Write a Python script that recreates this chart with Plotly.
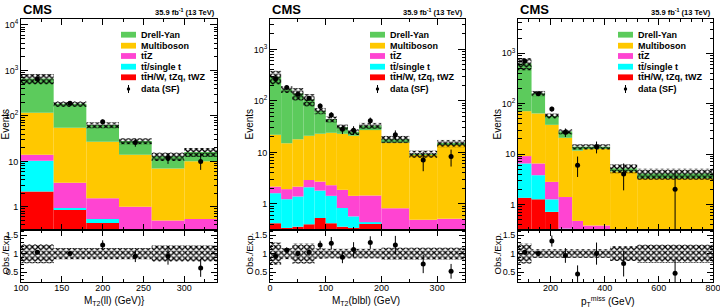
import plotly.graph_objects as go
import numpy as np

W, H = 720, 308

# ---------------- Panel 1: MT2(ll) ----------------
mt2ll_edges = [100, 140, 180, 220, 260, 300, 340]
mt2ll_dy = [547, 129, 36, 14, 6, 6]
mt2ll_vv = [104, 51.6, 25.5, 13, 6.5, 9.5]
mt2ll_ttz = [3.7, 2.46, 1.01, 0.75, 0.35, 0.39]
mt2ll_tt = [8.1, 0.05, 0.10, 0.05, 0.03, 0.03]
mt2ll_rare = [2.17, 0.89, 0.44, 0.20, 0.12, 0.12]
mt2ll_data = [650, 190, 74, 26, 12, 10]
mt2ll_err_up = [25, 14, 9, 5.5, 3.2, 5.0]
mt2ll_err_dn = [25, 14, 9, 5.0, 3.2, 3.5]
mt2ll_unc = [0.26, 0.15, 0.15, 0.15, 0.22, 0.22]
mt2ll_ratio = [1.04, 1.00, 1.23, 0.93, 0.93, 0.61]
mt2ll_ratio_err = [0.04, 0.06, 0.13, 0.16, 0.23, 0.24]

# ---------------- Panel 2: MT2(blbl) ----------------
mt2blbl_edges = [0, 20, 40, 60, 80, 100, 120, 140, 160, 200, 250, 300, 350]
mt2blbl_dy = [273, 153, 122, 86, 41, 20, 8, 4, 6, 2.5, 0.3, 1.0]
mt2blbl_vv = [19.8, 13.1, 15.8, 18.1, 20.3, 21.7, 21.1, 19.6, 25.6, 14.7, 8.5, 13.5]
mt2blbl_ttz = [0.55, 0.70, 0.77, 0.80, 0.89, 0.87, 1.04, 0.86, 1.01, 0.67, 0.34, 0.36]
mt2blbl_tt = [1.19, 0.89, 1.03, 1.70, 1.28, 1.01, 0.47, 0.23, 0.02, 0.02, 0.02, 0.02]
mt2blbl_rare = [0.42, 0.34, 0.36, 0.40, 0.53, 0.42, 0.36, 0.34, 0.42, 0.13, 0.13, 0.13]
mt2blbl_data = [270, 183, 135, 112, 80, 53, 28, 27, 41, 22, 7.1, 8.3]
mt2blbl_err_up = [16, 13.5, 11.6, 10.6, 9, 7.3, 5.3, 5.2, 6.4, 4.7, 3.2, 3.0]
mt2blbl_err_dn = [16, 13.5, 11.6, 10.6, 9, 7.3, 5.3, 5.2, 6.4, 4.7, 2.8, 3.0]
mt2blbl_unc = [0.30, 0.15, 0.27, 0.27, 0.14, 0.13, 0.13, 0.13, 0.13, 0.16, 0.16, 0.16]
mt2blbl_ratio = [0.93, 1.09, 1.00, 1.04, 1.23, 1.28, 0.90, 1.11, 1.30, 1.23, 0.72, 0.52]
mt2blbl_ratio_err = [0.05, 0.08, 0.08, 0.10, 0.12, 0.17, 0.16, 0.20, 0.17, 0.25, 0.25, 0.20]

# ---------------- Panel 3: pTmiss ----------------
met_edges = [80, 130, 180, 230, 280, 320, 420, 520, 800]
met_dy = [559, 96, 19, 7, 2.3, 1.4, 0.7, 0.8]
met_vv = [61.9, 57.5, 35.2, 19.6, 11.2, 12.2, 4.4, 3.2]
met_ttz = [2.6, 2.7, 1.54, 1.07, 0.31, 0.26, 0.04, 0.04]
met_tt = [5.15, 2.54, 0.55, 0.13, 0.06, 0.02, 0.01, 0.01]
met_rare = [1.35, 1.26, 0.71, 0.20, 0.10, 0.10, 0.05, 0.05]
met_data = [700, 158, 78, 27, 6, 14, 4, 2]
met_err_up = [26, 12.6, 8.8, 5.2, 2.9, 3.7, 2.5, 2.6]
met_err_dn = [26, 12.6, 8.8, 5.2, 2.5, 3.7, 2.1, 1.7]
met_unc = [0.27, 0.12, 0.12, 0.12, 0.12, 0.12, 0.20, 0.25]
met_ratio = [1.04, 1.00, 1.34, 0.95, 0.45, 1.00, 0.73, 0.47]
met_ratio_err = [0.03, 0.06, 0.15, 0.20, 0.23, 0.30, 0.35, 0.35]

# x tick labels
mt2ll_ticks = [100, 150, 200, 250, 300]
mt2blbl_ticks = [0, 100, 200, 300]
met_ticks = [200, 400, 600, 800]

proc_names = ["Drell-Yan", "Multiboson", "tt\u0304Z", "tt\u0304/single t", "tt\u0304H/W, tZq, tWZ"]
proc_colors = ["#5CCB5C", "#FFC800", "#FF44D2", "#00FFFF", "#FF0000"]

panels = [
    dict(edges=mt2ll_edges, comps=[mt2ll_rare, mt2ll_tt, mt2ll_ttz, mt2ll_vv, mt2ll_dy],
         data=mt2ll_data, eu=mt2ll_err_up, ed=mt2ll_err_dn, unc=mt2ll_unc,
         ratio=mt2ll_ratio, rerr=mt2ll_ratio_err, ticks=mt2ll_ticks,
         xpx=(21, 217), yrange=[np.log10(0.31), np.log10(13500)],
         decades=[1, 10, 100, 1000, 10000],
         xminor=25, xtitle="M<sub>T2</sub>(ll) (GeV)}", xtc=115),
    dict(edges=mt2blbl_edges, comps=[mt2blbl_rare, mt2blbl_tt, mt2blbl_ttz, mt2blbl_vv, mt2blbl_dy],
         data=mt2blbl_data, eu=mt2blbl_err_up, ed=mt2blbl_err_dn, unc=mt2blbl_unc,
         ratio=mt2blbl_ratio, rerr=mt2blbl_ratio_err, ticks=mt2blbl_ticks,
         xpx=(270, 465), yrange=[np.log10(0.31), np.log10(3900)],
         decades=[1, 10, 100, 1000],
         xminor=50, xtitle="M<sub>T2</sub>(blbl) (GeV)", xtc=366),
    dict(edges=met_edges, comps=[met_rare, met_tt, met_ttz, met_vv, met_dy],
         data=met_data, eu=met_err_up, ed=met_err_dn, unc=met_unc,
         ratio=met_ratio, rerr=met_ratio_err, ticks=met_ticks,
         xpx=(518, 713), yrange=[np.log10(0.31), np.log10(4800)],
         decades=[1, 10, 100, 1000],
         xminor=40, xtitle="p<sub>T</sub><sup>miss</sup> (GeV)", xtc=608),
]

main_top, main_bot, ratio_bot = 19, 230, 282
ydom_main = [1 - main_bot / H, 1 - main_top / H]
ydom_ratio = [1 - ratio_bot / H, 1 - main_bot / H]

FONT = "Liberation Sans, Arial, Helvetica, sans-serif"
fig = go.Figure()
shapes, annos = [], []

def px(x):
    return x / W

def py(y):
    return 1 - y / H

hatch = dict(shape="x", fgcolor="black", bgcolor="rgba(0,0,0,0)", size=4, solidity=0.55, fillmode="replace")

layout_axes = {}
for k, p in enumerate(panels):
    ia = 2 * k + 1  # main
    ir = 2 * k + 2  # ratio
    xm, ym = f"x{ia if ia > 1 else ''}", f"y{ia if ia > 1 else ''}"
    xr, yr = f"x{ir}", f"y{ir}"
    e = np.array(p["edges"], dtype=float)
    c = (e[:-1] + e[1:]) / 2
    w = np.diff(e)
    comps = [np.array(v, dtype=float) for v in p["comps"]]
    cum = np.zeros_like(c)
    order_colors = proc_colors[::-1]  # rare, tt, ttz, vv, dy
    for j, v in enumerate(comps):
        base = np.where(cum > 0, cum, 1e-3)
        top = cum + v
        fig.add_trace(go.Bar(x=c, y=top - base, base=base, width=w, xaxis=xm, yaxis=ym,
                             marker=dict(color=order_colors[j], line=dict(width=0)),
                             showlegend=False, hoverinfo="skip"))
        cum = top
    total = cum
    unc = np.array(p["unc"])
    fig.add_trace(go.Bar(x=c, y=2 * unc * total, base=total * (1 - unc), width=w, xaxis=xm, yaxis=ym,
                         marker=dict(color="black", line=dict(width=0), pattern=hatch),
                         showlegend=False, hoverinfo="skip"))
    fig.add_trace(go.Scatter(x=c, y=p["data"], mode="markers", xaxis=xm, yaxis=ym,
                             marker=dict(color="black", size=5),
                             error_y=dict(type="data", array=p["eu"], arrayminus=p["ed"],
                                          symmetric=False, width=0, thickness=1, color="black"),
                             showlegend=False, hoverinfo="skip"))
    # ratio
    fig.add_trace(go.Bar(x=c, y=2 * unc, base=1 - unc, width=w, xaxis=xr, yaxis=yr,
                         marker=dict(color="black", line=dict(width=0), pattern=hatch),
                         showlegend=False, hoverinfo="skip"))
    fig.add_trace(go.Scatter(x=c, y=p["ratio"], mode="markers", xaxis=xr, yaxis=yr,
                             marker=dict(color="black", size=5),
                             error_y=dict(type="data", array=p["rerr"], width=0, thickness=1, color="black"),
                             showlegend=False, hoverinfo="skip", cliponaxis=True))

    xdom = [px(p["xpx"][0]), px(p["xpx"][1])]
    xr_range = [e[0], e[-1]]
    common_x = dict(domain=xdom, range=xr_range, showline=True, linecolor="black", linewidth=1,
                    mirror="allticks", ticks="inside", ticklen=6, tickcolor="black",
                    tickmode="array", tickvals=p["ticks"], ticktext=[str(t) for t in p["ticks"]],
                    showgrid=False, zeroline=False,
                    minor=dict(ticks="inside", ticklen=3, dtick=p["xminor"], tick0=0, tickcolor="black"),
                    tickfont=dict(family=FONT, size=9, color="black"), automargin=False,
                    ticklabeloverflow="allow")
    layout_axes[f"xaxis{ia if ia > 1 else ''}"] = dict(common_x, anchor=ym, showticklabels=False, matches=xr)
    layout_axes[f"xaxis{ir}"] = dict(common_x, anchor=yr, showticklabels=True, ticklabelstandoff=-3)
    dec = p["decades"]
    dlabels = ["1", "10"] + [f"10<sup>{int(np.log10(d))}</sup>" for d in dec[2:]]
    minors = [m * d for d in [0.1] + dec for m in range(2, 10)]
    layout_axes[f"yaxis{ia if ia > 1 else ''}"] = dict(
        domain=ydom_main, type="log", range=p["yrange"], anchor=xm,
        showline=True, linecolor="black", linewidth=1, mirror="allticks",
        ticks="inside", ticklen=7, tickcolor="black", tickmode="array", tickvals=dec, ticktext=dlabels,
        minor=dict(ticks="inside", ticklen=3.5, tickmode="array", tickvals=minors, tickcolor="black"),
        tickfont=dict(family=FONT, size=9, color="black"), showgrid=False, zeroline=False, automargin=False)
    layout_axes[f"yaxis{ir}"] = dict(
        domain=ydom_ratio, range=[0.23, 1.64], anchor=xr,
        showline=True, linecolor="black", linewidth=1, mirror="allticks",
        ticks="inside", ticklen=6, tickcolor="black", tickmode="array", tickvals=[0.5, 1, 1.5],
        ticktext=["0.5", "1", "1.5"],
        minor=dict(ticks="inside", ticklen=3, dtick=0.1, tick0=0, tickcolor="black"),
        tickfont=dict(family=FONT, size=9, color="black"), showgrid=False, zeroline=False, automargin=False)

    xl, xrt = p["xpx"]
    # CMS and lumi
    annos.append(dict(x=px(xl), y=py(10), xref="paper", yref="paper", text="<b>CMS</b>", showarrow=False,
                      xanchor="left", yanchor="middle", font=dict(family=FONT, size=13, color="black")))
    annos.append(dict(x=px(xrt), y=py(12), xref="paper", yref="paper",
                      text="<b>35.9 fb<sup>-1</sup> (13 TeV)</b>", showarrow=False,
                      xanchor="right", yanchor="middle", font=dict(family=FONT, size=7.5, color="black")))
    # axis titles
    tx = max(xl - 21.5, 4.5)
    annos.append(dict(x=px(tx), y=py(124), xref="paper", yref="paper", text="Events", textangle=-90,
                      showarrow=False, xanchor="center", yanchor="middle",
                      font=dict(family=FONT, size=10, color="black")))
    annos.append(dict(x=px(tx), y=py(254), xref="paper", yref="paper", text="Obs./Exp.", textangle=-90,
                      showarrow=False, xanchor="center", yanchor="middle",
                      font=dict(family=FONT, size=9.5, color="black")))
    annos.append(dict(x=px(p["xtc"]), y=py(301), xref="paper", yref="paper", text=p["xtitle"],
                      showarrow=False, xanchor="center", yanchor="middle",
                      font=dict(family=FONT, size=10, color="black")))
    # legend
    rows = [34.7, 45.7, 56.0, 66.7, 77.3]
    for name, col, ry in zip(proc_names, proc_colors, rows):
        shapes.append(dict(type="rect", xref="paper", yref="paper", x0=px(xl + 100), x1=px(xl + 115),
                           y0=py(ry + 2.9), y1=py(ry - 2.9), fillcolor=col, line=dict(width=0)))
        annos.append(dict(x=px(xl + 118), y=py(ry), xref="paper", yref="paper", text=f"<b>{name}</b>",
                          showarrow=False, xanchor="left", yanchor="middle",
                          font=dict(family=FONT, size=9, color="black")))
    dy_ = 89
    shapes.append(dict(type="line", xref="paper", yref="paper", x0=px(xl + 107.5), x1=px(xl + 107.5),
                       y0=py(dy_ - 4), y1=py(dy_ + 4), line=dict(color="black", width=1)))
    shapes.append(dict(type="circle", xref="paper", yref="paper", x0=px(xl + 105.8), x1=px(xl + 109.2),
                       y0=py(dy_ - 1.7), y1=py(dy_ + 1.7), fillcolor="black", line=dict(width=0)))
    annos.append(dict(x=px(xl + 118), y=py(dy_), xref="paper", yref="paper", text="<b>data (SF)</b>",
                      showarrow=False, xanchor="left", yanchor="middle",
                      font=dict(family=FONT, size=9, color="black")))

fig.update_layout(width=W, height=H, margin=dict(l=0, r=0, t=0, b=0), barmode="overlay",
                  paper_bgcolor="white", plot_bgcolor="white", showlegend=False,
                  shapes=shapes, annotations=annos, **layout_axes)
fig.write_html("out.html")
